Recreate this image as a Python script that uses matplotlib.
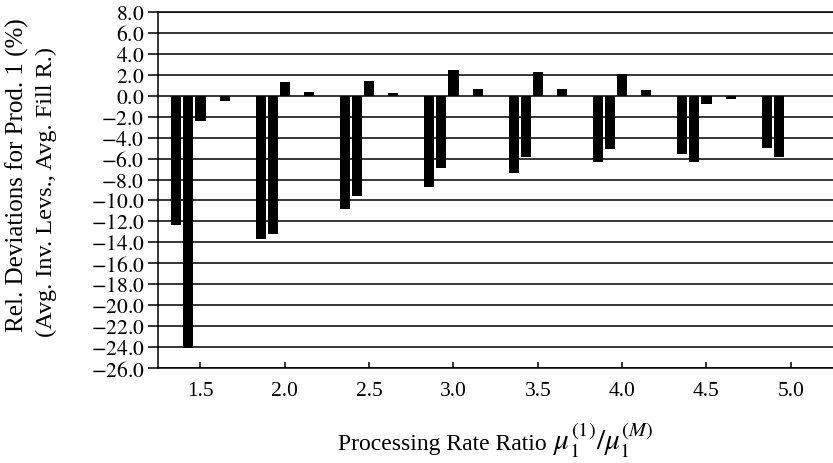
import numpy as np
import matplotlib
matplotlib.use("Agg")
import matplotlib.pyplot as plt

plt.rcParams['font.family'] = ['Liberation Serif', 'DejaVu Serif']
plt.rcParams['mathtext.fontset'] = 'stix'

# Processing rate ratios (group positions)
ratios = [1.5, 2.0, 2.5, 3.0, 3.5, 4.0, 4.5, 5.0]

# Relative deviations (%) for product 1, five series per ratio
series_1 = [-12.3, -13.65, -10.85, -8.7, -7.35, -6.3, -5.55, -5.0]
series_2 = [-24.1, -13.2, -9.6, -6.9, -5.85, -5.1, -6.3, -5.85]
series_3 = [-2.4, 1.35, 1.42, 2.42, 2.3, 2.1, -0.83, 0.0]
series_4 = [0.0, 0.0, 0.0, 0.0, 0.0, 0.0, 0.0, 0.0]
series_5 = [-0.5, 0.39, 0.23, 0.62, 0.62, 0.55, -0.35, 0.0]

all_series = [series_1, series_2, series_3, series_4, series_5]

y_ticks = np.arange(-26.0, 8.01, 2.0)
x_ticks = ratios

fig = plt.figure(figsize=(8.33, 4.64), dpi=100)
ax = fig.add_axes([0.19, 0.2047, 0.81, 0.7673])

slot = 0.0715
width = 0.06
x = np.array(ratios)
for i, vals in enumerate(all_series):
    ax.bar(x + (i - 2) * slot, vals, width=width, color='black',
           edgecolor='black', linewidth=0, zorder=3)

ax.set_xlim(1.25, 5.25)
ax.set_ylim(-26, 8)
ax.set_yticks(y_ticks)
ax.set_yticklabels([f"${v:.1f}$" for v in y_ticks])
ax.set_xticks(x_ticks)
ax.set_xticklabels([f"{v:.1f}" for v in x_ticks])

ax.yaxis.grid(True, color='black', linewidth=1.1, zorder=1)
ax.set_axisbelow(True)

ax.spines['right'].set_visible(False)
for s in ['left', 'bottom', 'top']:
    ax.spines[s].set_linewidth(1.1)

ax.tick_params(axis='y', direction='out', length=7, width=1.1,
               labelsize=15.5, pad=3)
ax.tick_params(axis='x', direction='in', length=4, width=1.1,
               labelsize=15.5, pad=9)

# Two-line y-axis title, one text per line
fig.text(17.5 / 833, 1 - 175 / 464, "Rel. Deviations for Prod. 1 (%)",
         rotation=90, ha='center', va='center', fontsize=18)
fig.text(46 / 833, 1 - 192 / 464, "(Avg. Inv. Levs., Avg. Fill R.)",
         rotation=90, ha='center', va='center', fontsize=17.5)

# x-axis title: words followed by the rate ratio symbol
base_y = 1 - 450 / 464
words = fig.text(338 / 833, base_y, "Processing Rate Ratio",
                 ha='left', va='baseline', fontsize=17)
renderer = fig.canvas.get_renderer()
words_end = words.get_window_extent(renderer).x1
fig.text((words_end + 6) / fig.bbox.width, base_y,
         r"$\mu_1^{(1)}/\mu_1^{(M)}$",
         ha='left', va='baseline', fontsize=21)

fig.savefig("out.png", dpi=100)
